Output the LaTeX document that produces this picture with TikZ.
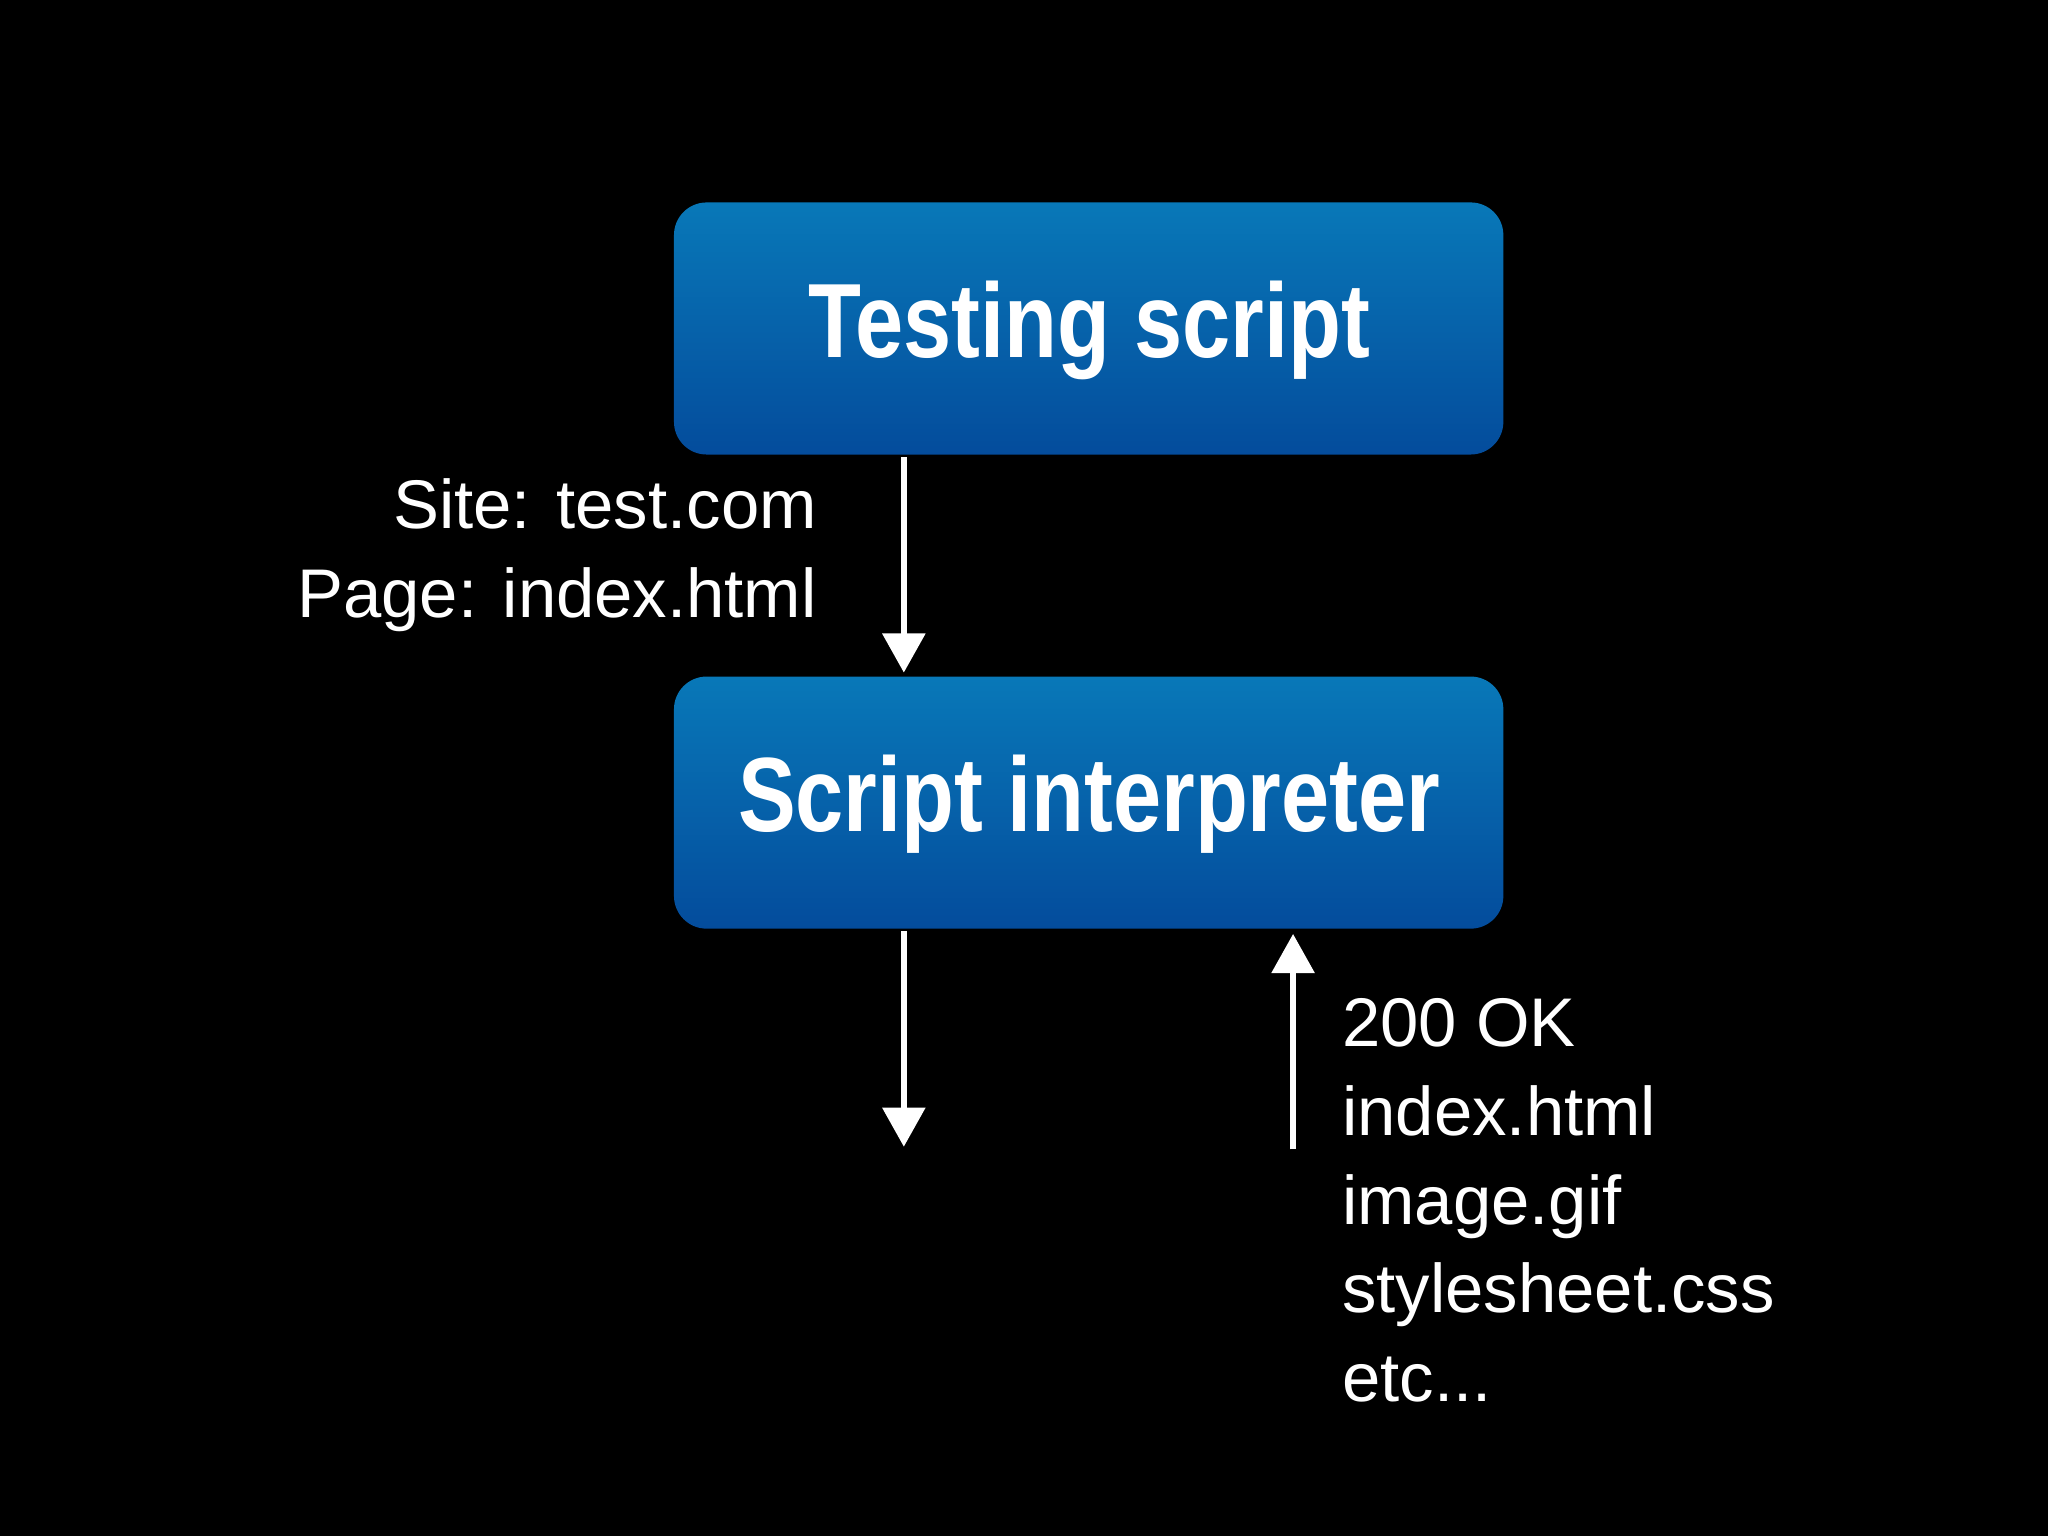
\documentclass[tikz,border=0pt]{standalone}
\usepackage{fontspec}
\setmainfont{Liberation Sans}
\tikzset{
  box/.style={rounded corners=0.25cm, top color={rgb,255:red,8;green,120;blue,184}, bottom color={rgb,255:red,4;green,76;blue,156}, draw=none},
  boxtext/.style={text=white, font=\fontsize{23}{26}\selectfont\bfseries},
  arr/.style={draw=white, line width=0.05cm, -{Triangle[width=0.32cm,length=0.3cm]}},
  lbl/.style={text=white, font=\fontsize{15}{19.3}\selectfont, inner sep=0pt}
}
\usetikzlibrary{arrows.meta}
\begin{document}
\begin{tikzpicture}
\fill[black] (0,0) rectangle (15.68,-11.76);
\useasboundingbox (0,0) rectangle (15.68,-11.76);
\fill[box] (5.16,-1.55) rectangle (11.51,-3.48);
\node[boxtext,xscale=0.82] (t1) at (8.34,-2.53) {Testing script};
\fill[box] (5.16,-5.18) rectangle (11.51,-7.11);
\node[boxtext,xscale=0.82] (t2) at (8.34,-6.16) {Script interpreter};
\coordinate (a1s) at (6.92,-3.50);
\coordinate (a1e) at (6.92,-5.15);
\coordinate (a2s) at (6.92,-7.13);
\coordinate (a2e) at (6.92,-8.78);
\coordinate (a3s) at (9.90,-8.80);
\coordinate (a3e) at (9.90,-7.15);
\draw[arr] (a1s) -- (a1e);
\draw[arr] (a2s) -- (a2e);
\draw[arr] (a3s) -- (a3e);
\node[lbl,align=right,anchor=north east] (l1) at (6.26,-3.66) {Site: test.com\\Page: index.html};
\node[lbl,align=left,anchor=north west] (l2) at (10.27,-7.64) {200 OK\\index.html\\image.gif\\stylesheet.css\\etc...};
\end{tikzpicture}
\end{document}
